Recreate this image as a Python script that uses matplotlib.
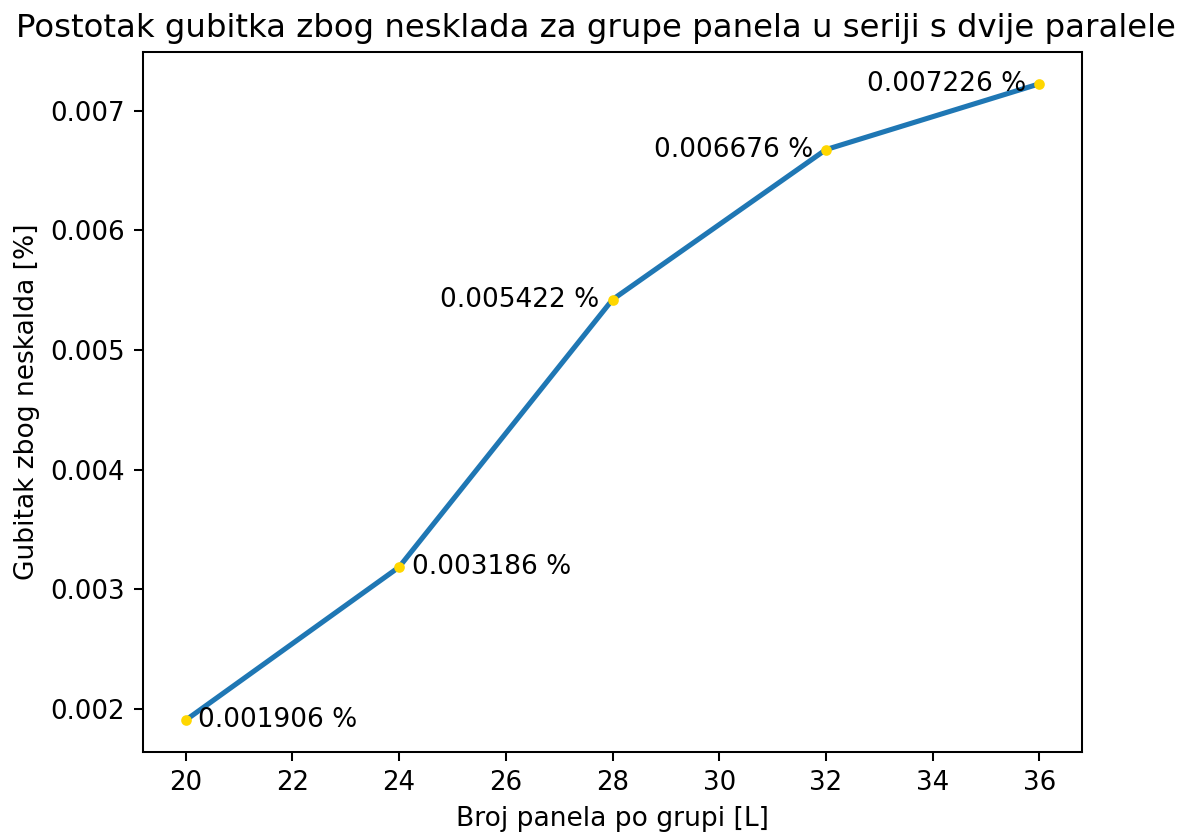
import matplotlib
matplotlib.use("Agg")
import matplotlib.pyplot as plt

panels = [20, 24, 28, 32, 36]
losses = [0.001906, 0.003186, 0.005422, 0.006676, 0.007226]
label_side = ["right", "right", "left", "left", "left"]

title = "Postotak gubitka zbog nesklada za grupe panela u seriji s dvije paralele"
xlabel = "Broj panela po grupi [L]"
ylabel = "Gubitak zbog neskalda [%]"

plt.rcParams["font.size"] = 10.2

fig = plt.figure(figsize=(1181/184, 836/184), dpi=184)
ax = fig.add_axes([143/1181, 1-752/836, (1082-143)/1181, (752-52)/836])
ax.plot(panels, losses, color="#1f77b4", linewidth=2, zorder=2)
ax.scatter(panels, losses, color="gold", s=10, zorder=3)

for x, y, side in zip(panels, losses, label_side):
    txt = f"{y:.6f} %"
    if side == "right":
        ax.annotate(txt, (x, y), xytext=(5, 0), textcoords="offset points",
                    ha="left", va="center", fontsize=10.3)
    else:
        ax.annotate(txt, (x, y), xytext=(-5, 0), textcoords="offset points",
                    ha="right", va="center", fontsize=10.3)

ax.set_xticks(range(20, 37, 2))
ax.set_yticks([0.002, 0.003, 0.004, 0.005, 0.006, 0.007])
ax.set_xlim(19.2, 36.8)
ax.set_ylim(0.001640, 0.007492)
ax.set_title(title, fontsize=12.7, x=0.4825)
ax.set_xlabel(xlabel, fontsize=10.4)
ax.set_ylabel(ylabel, fontsize=10.4)
fig.savefig("out.png", dpi=184)
